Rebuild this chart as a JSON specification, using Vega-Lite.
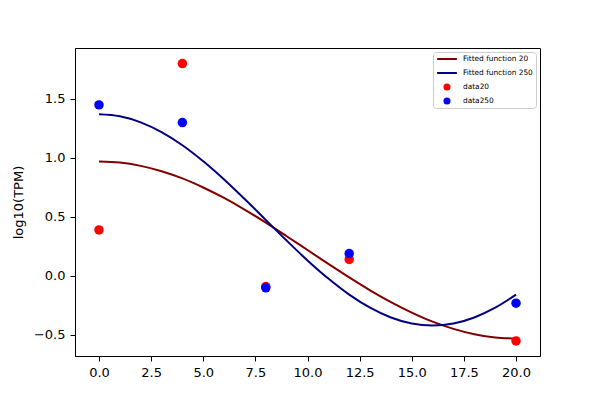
{
  "$schema": "https://vega.github.io/schema/vega-lite/v6.json",
  "width": 465,
  "height": 308,
  "autosize": "none",
  "padding": {"left": 75, "top": 48, "right": 60, "bottom": 44},
  "background": "white",
  "config": {
    "font": "DejaVu Sans",
    "view": {"stroke": "black", "strokeWidth": 1},
    "axis": {
      "domainColor": "black",
      "tickColor": "black",
      "labelColor": "black",
      "titleColor": "black",
      "labelFontSize": 13,
      "titleFontSize": 13,
      "titleFontWeight": "normal",
      "tickSize": 5,
      "labelPadding": 5,
      "grid": false
    }
  },
  "datasets": {
    "curves": [
      {"x": 0, "y": 0.970, "series": "Fitted function 20"},
      {"x": 1, "y": 0.961, "series": "Fitted function 20"},
      {"x": 2, "y": 0.933, "series": "Fitted function 20"},
      {"x": 3, "y": 0.888, "series": "Fitted function 20"},
      {"x": 4, "y": 0.827, "series": "Fitted function 20"},
      {"x": 5, "y": 0.750, "series": "Fitted function 20"},
      {"x": 6, "y": 0.661, "series": "Fitted function 20"},
      {"x": 7, "y": 0.561, "series": "Fitted function 20"},
      {"x": 8, "y": 0.452, "series": "Fitted function 20"},
      {"x": 9, "y": 0.337, "series": "Fitted function 20"},
      {"x": 10, "y": 0.220, "series": "Fitted function 20"},
      {"x": 11, "y": 0.103, "series": "Fitted function 20"},
      {"x": 12, "y": -0.012, "series": "Fitted function 20"},
      {"x": 13, "y": -0.121, "series": "Fitted function 20"},
      {"x": 14, "y": -0.221, "series": "Fitted function 20"},
      {"x": 15, "y": -0.310, "series": "Fitted function 20"},
      {"x": 16, "y": -0.387, "series": "Fitted function 20"},
      {"x": 17, "y": -0.448, "series": "Fitted function 20"},
      {"x": 18, "y": -0.493, "series": "Fitted function 20"},
      {"x": 19, "y": -0.521, "series": "Fitted function 20"},
      {"x": 20, "y": -0.530, "series": "Fitted function 20"},
      {"x": 0, "y": 1.370, "series": "Fitted function 250"},
      {"x": 1, "y": 1.353, "series": "Fitted function 250"},
      {"x": 2, "y": 1.302, "series": "Fitted function 250"},
      {"x": 3, "y": 1.219, "series": "Fitted function 250"},
      {"x": 4, "y": 1.108, "series": "Fitted function 250"},
      {"x": 5, "y": 0.972, "series": "Fitted function 250"},
      {"x": 6, "y": 0.818, "series": "Fitted function 250"},
      {"x": 7, "y": 0.650, "series": "Fitted function 250"},
      {"x": 8, "y": 0.475, "series": "Fitted function 250"},
      {"x": 9, "y": 0.300, "series": "Fitted function 250"},
      {"x": 10, "y": 0.132, "series": "Fitted function 250"},
      {"x": 11, "y": -0.022, "series": "Fitted function 250"},
      {"x": 12, "y": -0.158, "series": "Fitted function 250"},
      {"x": 13, "y": -0.269, "series": "Fitted function 250"},
      {"x": 14, "y": -0.352, "series": "Fitted function 250"},
      {"x": 15, "y": -0.403, "series": "Fitted function 250"},
      {"x": 16, "y": -0.420, "series": "Fitted function 250"},
      {"x": 17, "y": -0.403, "series": "Fitted function 250"},
      {"x": 18, "y": -0.352, "series": "Fitted function 250"},
      {"x": 19, "y": -0.269, "series": "Fitted function 250"},
      {"x": 20, "y": -0.158, "series": "Fitted function 250"}
    ],
    "points": [
      {"x": 0, "y": 0.39, "series": "data20"},
      {"x": 4, "y": 1.80, "series": "data20"},
      {"x": 8, "y": -0.09, "series": "data20"},
      {"x": 12, "y": 0.14, "series": "data20"},
      {"x": 20, "y": -0.55, "series": "data20"},
      {"x": 0, "y": 1.45, "series": "data250"},
      {"x": 4, "y": 1.30, "series": "data250"},
      {"x": 8, "y": -0.10, "series": "data250"},
      {"x": 12, "y": 0.19, "series": "data250"},
      {"x": 20, "y": -0.23, "series": "data250"}
    ]
  },
  "layer": [
    {
      "data": {"name": "curves"},
      "mark": {"type": "line", "strokeWidth": 2, "interpolate": "monotone"},
      "encoding": {
        "x": {
          "field": "x",
          "type": "quantitative",
          "scale": {"domain": [-1.15, 21.15], "nice": false, "zero": false},
          "axis": {"values": [0, 2.5, 5, 7.5, 10, 12.5, 15, 17.5, 20], "format": ".1f", "title": null}
        },
        "y": {
          "field": "y",
          "type": "quantitative",
          "scale": {"domain": [-0.678, 1.932], "nice": false, "zero": false},
          "axis": {"values": [-0.5, 0, 0.5, 1, 1.5], "format": ".1f", "title": "log10(TPM)", "titlePadding": 8}
        },
        "color": {
          "field": "series",
          "type": "nominal",
          "scale": {
            "domain": ["Fitted function 20", "Fitted function 250", "data20", "data250"],
            "range": ["#800000", "#000080", "#ff0000", "#0000ff"]
          }
        }
      }
    },
    {
      "data": {"name": "points"},
      "mark": {"type": "point", "filled": true, "opacity": 1, "size": 90},
      "encoding": {
        "x": {"field": "x", "type": "quantitative"},
        "y": {"field": "y", "type": "quantitative"},
        "color": {
          "field": "series",
          "type": "nominal",
          "legend": {
            "title": null,
            "orient": "top-right",
            "offset": 4,
            "labelFontSize": 7.4,
            "labelLimit": 200,
            "labelOffset": 12,
            "symbolSize": 50,
            "symbolOffset": 7,
            "symbolStrokeWidth": 0,
            "symbolOpacity": 1,
            "rowPadding": 6,
            "padding": 3,
            "fillColor": "white",
            "strokeColor": "#cccccc",
            "cornerRadius": 3
          }
        },
        "shape": {
          "field": "series",
          "type": "nominal",
          "scale": {
            "domain": ["Fitted function 20", "Fitted function 250", "data20", "data250"],
            "range": ["M-2.8,-0.28H2.8V0.28H-2.8Z", "M-2.8,-0.28H2.8V0.28H-2.8Z", "circle", "circle"]
          }
        }
      }
    }
  ]
}
